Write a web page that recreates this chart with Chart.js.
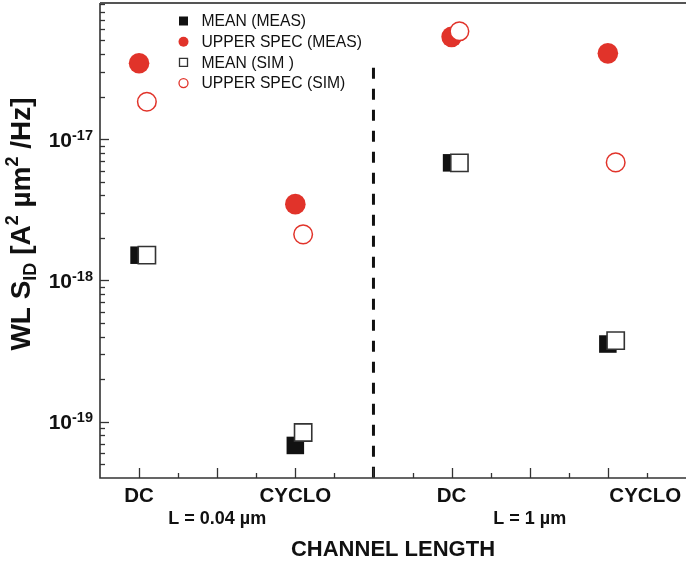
<!DOCTYPE html>
<html><head><meta charset="utf-8">
<script src="https://cdn.jsdelivr.net/npm/chart.js@4"></script>
<style>html,body{margin:0;padding:0;background:#fff;}canvas{display:block;}</style>
</head><body>
<canvas id="c" width="686" height="564"></canvas>
<script>
// ---- data ----
const categories = ['DC', 'CYCLO', 'DC', 'CYCLO'];
const categoryPos = [1, 3, 5, 7];
const groupLabels = ['L = 0.04 \u00b5m', 'L = 1 \u00b5m'];
const groupPos = [2, 6];
const meanMeas  = [1.51e-18, 6.8e-20, 6.8e-18, 3.55e-19];
const upperMeas = [3.45e-17, 3.47e-18, 5.3e-17, 4.05e-17];
const meanSim   = [1.51e-18, 8.4e-20, 6.8e-18, 3.75e-19];
const upperSim  = [1.84e-17, 2.12e-18, 5.8e-17, 6.85e-18];
const yTickValues = [1e-19, 1e-18, 1e-17];
const yTickExps = ['-19', '-18', '-17'];
const separatorX = 4;
const separatorRange = [3.2e-17, 4e-20];
const xTitle = 'CHANNEL LENGTH';
const yTitleParts = [['WL S', 0], ['ID', 1], [' [A', 0], ['2', 2], [' \u00b5m', 0], ['2', 2], [' /Hz]', 0]];

const RED = '#E1332A';
const FONT = '"Liberation Sans", Arial, sans-serif';
const mk = (vals, off) => vals.map((v, i) => ({ x: categoryPos[i] + off, y: v }));

const decor = {
  id: 'decor',
  afterDraw(chart) {
    const c = chart.ctx, a = chart.chartArea;
    const xs = chart.scales.x, ys = chart.scales.y;
    c.save();
    // axes & top frame
    c.strokeStyle = '#333'; c.lineWidth = 1.6;
    c.beginPath();
    c.moveTo(a.left, a.top); c.lineTo(a.left, a.bottom); c.lineTo(a.right, a.bottom);
    c.stroke();
    c.strokeStyle = '#555'; c.lineWidth = 1.8;
    c.beginPath(); c.moveTo(a.left, a.top); c.lineTo(a.right, a.top); c.stroke();
    // y ticks (inward)
    c.strokeStyle = '#333'; c.lineWidth = 1.3;
    const e0 = Math.floor(Math.log10(ys.min)), e1 = Math.ceil(Math.log10(ys.max));
    for (let e = e0; e <= e1; e++) {
      for (let m = 1; m <= 9; m++) {
        const v = m * Math.pow(10, e);
        if (v <= ys.min * 1.0001 || v >= ys.max * 0.9999) continue;
        const y = Math.round(ys.getPixelForValue(v)) + 0.5;
        const len = m === 1 ? 9 : 5;
        c.beginPath(); c.moveTo(a.left, y); c.lineTo(a.left + len, y); c.stroke();
      }
    }
    // x ticks (inward)
    for (let v = Math.ceil(xs.min * 2) / 2; v <= xs.max; v += 0.5) {
      if (v <= xs.min || v >= xs.max) continue;
      const x = Math.round(xs.getPixelForValue(v)) + 0.5;
      const len = Number.isInteger(v) ? 10 : 5;
      c.beginPath(); c.moveTo(x, a.bottom); c.lineTo(x, a.bottom - len); c.stroke();
    }
    // y tick labels with superscript exponent
    c.fillStyle = '#111'; c.textBaseline = 'alphabetic';
    yTickValues.forEach((v, i) => {
      const y = ys.getPixelForValue(v);
      c.font = 'bold 14.5px ' + FONT;
      const we = c.measureText(yTickExps[i]).width;
      c.textAlign = 'right';
      c.fillText(yTickExps[i], a.left - 7, y + 0.5);
      c.font = 'bold 21px ' + FONT;
      c.fillText('10', a.left - 7 - we, y + 7.5);
    });
    // category labels
    c.font = 'bold 20.5px ' + FONT; c.textBaseline = 'middle';
    categories.forEach((t, i) => {
      const x = xs.getPixelForValue(categoryPos[i]);
      if (i === categories.length - 1) { c.textAlign = 'left'; c.fillText(t, x + 1.5, a.bottom + 18); }
      else { c.textAlign = 'center'; c.fillText(t, x, a.bottom + 18); }
    });
    c.font = 'bold 18px ' + FONT; c.textAlign = 'center';
    groupLabels.forEach((t, i) => c.fillText(t, xs.getPixelForValue(groupPos[i]), a.bottom + 41));
    c.font = 'bold 22px ' + FONT;
    c.fillText(xTitle, (a.left + a.right) / 2, a.bottom + 72);
    // y title (rotated, with sub/superscripts)
    const sizes = [28, 18, 18];
    const offs = [0, 6, -12];
    let total = 0;
    yTitleParts.forEach(([t, k]) => { c.font = 'bold ' + sizes[k] + 'px ' + FONT; total += c.measureText(t).width; });
    c.translate(30, 224); c.rotate(-Math.PI / 2);
    c.textAlign = 'left'; c.textBaseline = 'alphabetic';
    let px = -total / 2;
    yTitleParts.forEach(([t, k]) => {
      c.font = 'bold ' + sizes[k] + 'px ' + FONT;
      c.fillText(t, px, offs[k]);
      px += c.measureText(t).width;
    });
    c.restore();
    // legend
    c.save();
    const items = chart.data.datasets.filter(d => d.label);
    items.forEach((d, i) => {
      const y = 21 + i * 20.7, x = 183.5;
      c.beginPath();
      if (d.pointStyle === 'rect') {
        const s = d.borderWidth ? 8 : 9;
        c.rect(x - s / 2, y - s / 2, s, s);
      } else {
        c.arc(x, y, d.borderWidth ? 4.5 : 5, 0, Math.PI * 2);
      }
      c.fillStyle = d.backgroundColor; c.fill();
      if (d.borderWidth) { c.strokeStyle = d.borderColor; c.lineWidth = 1.3; c.stroke(); }
      c.fillStyle = '#111'; c.font = '15.7px ' + FONT; c.textAlign = 'left'; c.textBaseline = 'middle';
      c.fillText(d.label, 201.5, y + 1);
    });
    c.restore();
  }
};

new Chart(document.getElementById('c'), {
  type: 'scatter',
  data: {
    datasets: [
      { label: 'MEAN (MEAS)', data: mk(meanMeas, 0), pointStyle: 'rect', pointRadius: 12.4,
        backgroundColor: '#111', borderColor: '#111', borderWidth: 0, order: 3 },
      { label: 'UPPER SPEC (MEAS)', data: mk(upperMeas, 0), pointStyle: 'circle', pointRadius: 10.3,
        backgroundColor: RED, borderColor: RED, borderWidth: 0, order: 3 },
      { label: 'MEAN (SIM )', data: mk(meanSim, 0.1), pointStyle: 'rect', pointRadius: 12.2,
        backgroundColor: '#fff', borderColor: '#333', borderWidth: 1.6, order: 1 },
      { label: 'UPPER SPEC (SIM)', data: mk(upperSim, 0.1), pointStyle: 'circle', pointRadius: 9.3,
        backgroundColor: '#fff', borderColor: RED, borderWidth: 1.5, order: 1 },
      { type: 'line', label: '', data: separatorRange.map(v => ({ x: separatorX, y: v })),
        borderColor: '#111', borderWidth: 3, borderDash: [11, 10], pointRadius: 0, order: 5 }
    ]
  },
  options: {
    responsive: false, animation: false, devicePixelRatio: 1,
    layout: { autoPadding: false, padding: { top: 3, right: 0, left: 0, bottom: 0 } },
    plugins: { legend: { display: false }, tooltip: { enabled: false } },
    scales: {
      x: { type: 'linear', bounds: 'data', min: 0.5, max: 8,
           grid: { display: false }, ticks: { display: false }, border: { display: false },
           afterFit(s) { s.height = 86; } },
      y: { type: 'logarithmic', bounds: 'data', min: 4e-20, max: 9.2e-17,
           grid: { display: false }, ticks: { display: false }, border: { display: false },
           afterFit(s) { s.width = 100; } }
    }
  },
  plugins: [decor]
});
</script>
</body></html>
